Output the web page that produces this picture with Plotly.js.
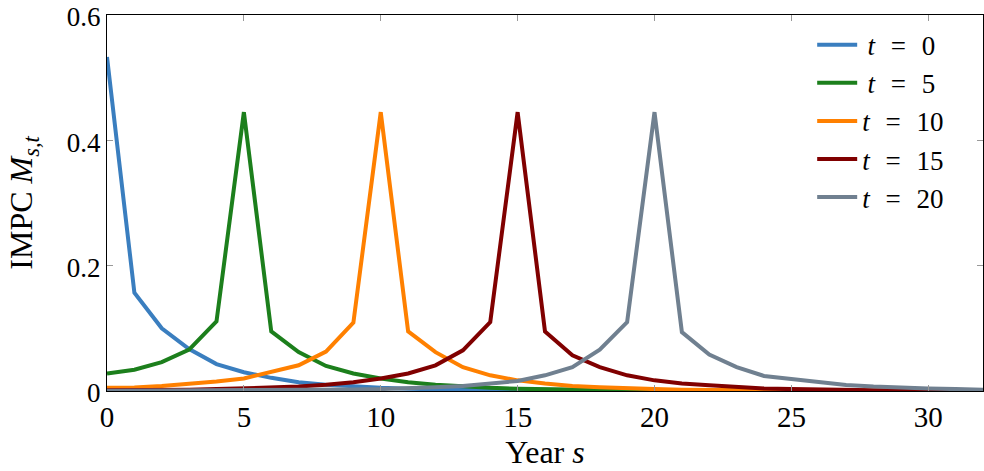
<!DOCTYPE html>
<html>
<head>
<meta charset="utf-8">
<script src="https://cdn.plot.ly/plotly-3.0.1.min.js"></script>
<style>html,body{margin:0;padding:0;background:#fff;}#chart{width:984px;height:471px;}</style>
</head>
<body>
<div id="chart"></div>
<script>
const years = Array.from({length: 33}, (_, i) => i);
const seriesNames = ["\u2009<i>t</i>\u2002\u200A=\u2002\u200A0", "\u2009<i>t</i>\u2002\u200A=\u2002\u200A5", "<i>t</i>\u2002\u200A=\u2002\u200A10", "<i>t</i>\u2002\u200A=\u2002\u200A15", "<i>t</i>\u2002\u200A=\u2002\u200A20"];
const seriesColors = ["#3a7ebf", "#1c7f1c", "#ff8000", "#800000", "#708090"];

const impcT0 = [0.533, 0.157, 0.100, 0.067, 0.043, 0.030, 0.021, 0.014, 0.010, 0.007, 0.005, 0.0035, 0.0025, 0.002, 0.0015, 0.001, 0.001, 0.0008, 0.0006, 0.0005, 0.0004, 0.0003, 0.0003, 0.0002, 0.0002, 0.0001, 0.0001, 0.0001, 0.0001, 0.0001, 0.0001, 0.0001, 0.0001];
const impcT5 = [0.028, 0.034, 0.046, 0.066, 0.111, 0.445, 0.095, 0.062, 0.040, 0.028, 0.020, 0.014, 0.010, 0.007, 0.005, 0.0035, 0.0025, 0.002, 0.0015, 0.001, 0.0008, 0.0006, 0.0005, 0.0004, 0.0003, 0.0002, 0.0002, 0.0001, 0.0001, 0.0001, 0.0001, 0.0001, 0.0001];
const impcT10 = [0.005, 0.0055, 0.008, 0.011, 0.015, 0.020, 0.030, 0.041, 0.063, 0.109, 0.445, 0.095, 0.062, 0.038, 0.025, 0.017, 0.012, 0.008, 0.006, 0.004, 0.003, 0.002, 0.0015, 0.001, 0.0008, 0.0006, 0.0005, 0.0004, 0.0003, 0.0002, 0.0002, 0.0001, 0.0001];
const impcT15 = [0.001, 0.001, 0.0015, 0.002, 0.003, 0.004, 0.005, 0.007, 0.010, 0.014, 0.020, 0.028, 0.041, 0.065, 0.110, 0.445, 0.095, 0.057, 0.038, 0.025, 0.017, 0.012, 0.009, 0.006, 0.004, 0.003, 0.002, 0.0015, 0.001, 0.0008, 0.0006, 0.0005, 0.0004];
const impcT20 = [0.0003, 0.0004, 0.0005, 0.0006, 0.0008, 0.001, 0.0012, 0.0015, 0.002, 0.0025, 0.003, 0.004, 0.006, 0.008, 0.012, 0.016, 0.025, 0.038, 0.066, 0.110, 0.445, 0.094, 0.058, 0.038, 0.024, 0.019, 0.014, 0.0095, 0.007, 0.005, 0.004, 0.003, 0.002];
const seriesValues = [impcT0, impcT5, impcT10, impcT15, impcT20];

const xTicks = [0, 5, 10, 15, 20, 25, 30];
const yTicks = [0, 0.2, 0.4, 0.6];
const yTickLabels = ["0", "0.2", "0.4", "0.6"];

const traces = seriesValues.map((vals, i) => ({
  x: years, y: vals, type: "scatter", mode: "lines", name: seriesNames[i],
  line: {color: seriesColors[i], width: 4}
}));

const fontFam = "Liberation Serif, DejaVu Serif, serif";
const layout = {
  width: 984, height: 471,
  margin: {l: 107, r: 1, t: 15, b: 80},
  paper_bgcolor: "#fff", plot_bgcolor: "#fff",
  font: {family: fontFam, size: 28, color: "#000"},
  showlegend: true,
  legend: {x: 0.805, y: 0.985, xanchor: "left", yanchor: "top", bgcolor: "rgba(0,0,0,0)",
           font: {family: fontFam, size: 27}, tracegroupgap: 0, itemwidth: 40},
  xaxis: {range: [0, 32], tickvals: xTicks, showgrid: false, zeroline: false,
          showline: true, linecolor: "#000", linewidth: 1, mirror: "ticks",
          ticks: "inside", ticklen: 6, tickcolor: "#999", ticklabeloverflow: "allow",
          title: {text: "Year <i>s</i>", font: {family: fontFam, size: 32}, standoff: 8},
          tickfont: {family: fontFam, size: 29}},
  yaxis: {range: [0, 0.6], tickvals: yTicks, ticktext: yTickLabels, showgrid: false, zeroline: false,
          showline: true, linecolor: "#000", linewidth: 1, mirror: "ticks",
          ticks: "inside", ticklen: 6, tickcolor: "#999", ticklabeloverflow: "allow",
          ticklabelshift: 2,
          title: {text: "IMPC <i>M</i><sub><i>s,t</i></sub>", font: {family: fontFam, size: 32}, standoff: 24},
          tickfont: {family: fontFam, size: 27}}
};
Plotly.newPlot("chart", traces, layout, {displayModeBar: false, staticPlot: true});
</script>
</body>
</html>
